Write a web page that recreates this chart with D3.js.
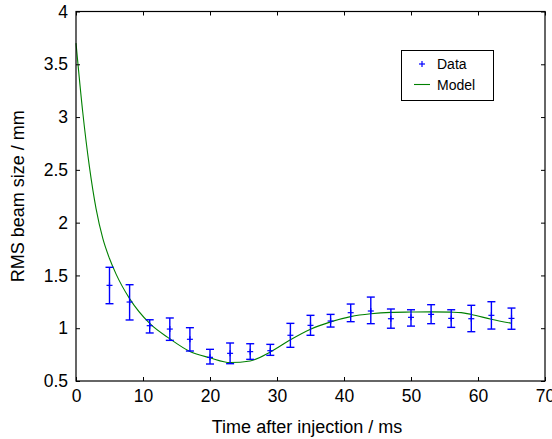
<!DOCTYPE html>
<html>
<head>
<meta charset="utf-8">
<script src="https://cdn.jsdelivr.net/npm/d3@7"></script>
<style>
  html, body { margin: 0; padding: 0; background: #fff; }
  svg { display: block; font-family: "Liberation Sans", Arial, sans-serif; }
</style>
</head>
<body>
<svg id="chart" width="552" height="439"></svg>
<script>
// Measured data (time / ms)
const dataTime = [5, 8, 11, 14, 17, 20, 23, 26, 29, 32, 35, 38, 41, 44, 47, 50, 53, 56, 59, 62, 65];
const dataValue = [1.406, 1.248, 1.024, 0.992, 0.895, 0.724, 0.762, 0.778, 0.787, 0.933, 1.027, 1.068, 1.147, 1.163, 1.09, 1.103, 1.131, 1.093, 1.09, 1.122, 1.093];
const dataLow = [1.232, 1.078, 0.955, 0.885, 0.784, 0.661, 0.664, 0.705, 0.743, 0.819, 0.933, 1.011, 1.062, 1.043, 1.0, 1.02, 1.043, 1.008, 0.967, 0.992, 0.99];
const dataHigh = [1.577, 1.412, 1.08, 1.097, 1.005, 0.80, 0.86, 0.853, 0.847, 1.046, 1.122, 1.131, 1.229, 1.295, 1.182, 1.175, 1.223, 1.175, 1.217, 1.251, 1.191];

// Model curve
const modelTime = [0, 1, 2, 3, 4, 5, 6, 8, 11, 14, 17, 20, 23, 26, 29, 32, 35, 38, 41, 44, 47, 50, 53, 56, 57.5, 59, 62, 65];
const modelValue = [3.7, 3.05, 2.53, 2.13, 1.85, 1.66, 1.51, 1.28, 1.045, 0.90, 0.78, 0.72, 0.675, 0.69, 0.775, 0.89, 0.99, 1.06, 1.11, 1.137, 1.15, 1.153, 1.155, 1.152, 1.148, 1.13, 1.085, 1.046];

const xTicks = [0, 10, 20, 30, 40, 50, 60, 70];
const yTicks = [0.5, 1, 1.5, 2, 2.5, 3, 3.5, 4];
const xLabel = "Time after injection / ms";
const yLabel = "RMS beam size / mm";
const legendLabels = ["Data", "Model"];

const svg = d3.select("#chart");
const L = 76, R = 545, T = 11.5, B = 381;
const x = d3.scaleLinear().domain([0, 70]).range([L, R]);
const y = d3.scaleLinear().domain([0.5, 4]).range([B, T]);
const tickLen = 4;
const tickFont = 17.5;
const labelFont = 18;

// Model line
const line = d3.line().x((d, i) => x(modelTime[i])).y((d, i) => y(modelValue[i])).curve(d3.curveMonotoneX);
svg.append("path")
  .attr("d", line(modelTime))
  .attr("fill", "none")
  .attr("stroke", "#008000")
  .attr("stroke-width", 1.1);

// Error bars
const eb = svg.append("g").attr("stroke", "#0000ff").attr("stroke-width", 1.4).attr("fill", "none");
dataTime.forEach((t, i) => {
  const cx = x(t);
  eb.append("line").attr("x1", cx).attr("x2", cx).attr("y1", y(dataLow[i])).attr("y2", y(dataHigh[i]));
  eb.append("line").attr("x1", cx - 4).attr("x2", cx + 4).attr("y1", y(dataLow[i])).attr("y2", y(dataLow[i]));
  eb.append("line").attr("x1", cx - 4).attr("x2", cx + 4).attr("y1", y(dataHigh[i])).attr("y2", y(dataHigh[i]));
  const cy = y(dataValue[i]);
  eb.append("line").attr("x1", cx - 3).attr("x2", cx + 3).attr("y1", cy).attr("y2", cy).attr("stroke-width", 1.2);
  eb.append("line").attr("x1", cx).attr("x2", cx).attr("y1", cy - 3).attr("y2", cy + 3).attr("stroke-width", 1.2);
});

// Axes
const axB = d3.axisBottom(x).tickValues(xTicks).tickSizeInner(-tickLen).tickSizeOuter(0).tickPadding(9);
const axT = d3.axisTop(x).tickValues(xTicks).tickSizeInner(-tickLen).tickSizeOuter(0).tickFormat("");
const axLft = d3.axisLeft(y).tickValues(yTicks).tickSizeInner(-tickLen).tickSizeOuter(0).tickPadding(8).tickFormat(d3.format("~g"));
const axRt = d3.axisRight(y).tickValues(yTicks).tickSizeInner(-tickLen).tickSizeOuter(0).tickFormat("");

function styleAxis(g) {
  g.select(".domain").remove();
  g.selectAll(".tick line").attr("stroke", "#000").attr("stroke-width", 1);
  g.selectAll(".tick text").attr("fill", "#000").style("font-size", tickFont + "px").style("font-family", "Liberation Sans, Arial, sans-serif");
}
svg.append("g").attr("transform", `translate(0,${B})`).call(axB).call(styleAxis);
svg.append("g").attr("transform", `translate(0,${T})`).call(axT).call(styleAxis);
svg.append("g").attr("transform", `translate(${L},0)`).call(axLft).call(styleAxis);
svg.append("g").attr("transform", `translate(${R},0)`).call(axRt).call(styleAxis);

// Frame
svg.append("rect").attr("x", L).attr("y", T).attr("width", R - L).attr("height", B - T)
  .attr("fill", "none").attr("stroke", "#000").attr("stroke-width", 1.2);

// Axis labels
svg.append("text").attr("x", 307).attr("y", 433).attr("text-anchor", "middle")
  .style("font-size", labelFont + "px").text(xLabel);
svg.append("text").attr("transform", `translate(24,${(T + B) / 2}) rotate(-90)`).attr("text-anchor", "middle")
  .style("font-size", labelFont + "px").text(yLabel);

// Legend
const lg = svg.append("g");
lg.append("rect").attr("x", 401.5).attr("y", 50.5).attr("width", 92).attr("height", 50)
  .attr("fill", "#fff").attr("stroke", "#000").attr("stroke-width", 1);
lg.append("line").attr("x1", 419).attr("x2", 425).attr("y1", 64).attr("y2", 64).attr("stroke", "#0000ff").attr("stroke-width", 1.2);
lg.append("line").attr("x1", 422).attr("x2", 422).attr("y1", 61).attr("y2", 67).attr("stroke", "#0000ff").attr("stroke-width", 1.2);
lg.append("line").attr("x1", 414).attr("x2", 430).attr("y1", 84.5).attr("y2", 84.5).attr("stroke", "#008000").attr("stroke-width", 1.1);
lg.append("text").attr("x", 437).attr("y", 69).style("font-size", "14px").text(legendLabels[0]);
lg.append("text").attr("x", 437).attr("y", 89.5).style("font-size", "14px").text(legendLabels[1]);
</script>
</body>
</html>
